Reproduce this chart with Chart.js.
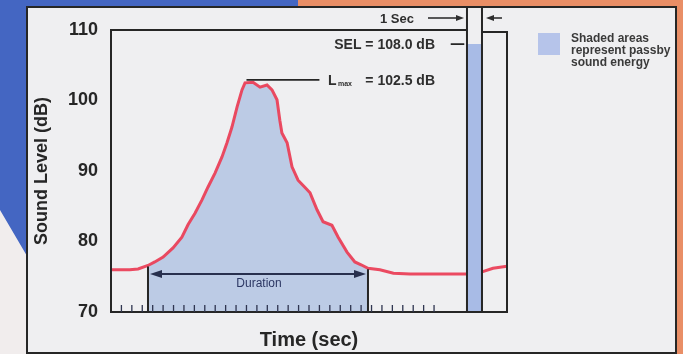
<!DOCTYPE html>
<html>
<head>
<meta charset="utf-8">
<script src="https://cdn.jsdelivr.net/npm/chart.js@4.4.0/dist/chart.umd.min.js"></script>
<style>
html,body{margin:0;padding:0;background:#f0eded;}
canvas{display:block;}
</style>
</head>
<body>
<canvas id="passby" width="683" height="354"></canvas>
<script>
// passby time history (time in seconds of the tick scale, level in dB)
var timeSec  = [0, 0.9, 1.8, 2.6, 3.55, 4.2, 5.0, 5.95, 6.8, 7.4, 8.06, 8.73, 9.3, 9.98, 10.65, 11.13, 11.6, 12.1, 12.57, 12.86, 13.63, 14.3, 14.97, 15.45, 15.93, 16.2, 16.4, 16.9, 17.37, 17.95, 18.6, 19.1, 19.77, 20.35, 21.2, 21.8, 22.65, 23.4, 24.0, 24.66, 25.8, 27.1, 28.7, 30.3, 31.9, 34.16];
var levelDb  = [76.0, 76.0, 76.0, 76.1, 76.6, 77.1, 77.8, 79.1, 80.6, 82.4, 84.0, 85.9, 87.7, 89.7, 92.0, 94.0, 96.2, 99.1, 101.5, 102.5, 102.6, 101.9, 102.2, 101.5, 100.1, 97.2, 95.4, 94.0, 90.6, 88.7, 87.7, 86.9, 84.5, 82.8, 82.3, 80.6, 78.5, 77.1, 76.7, 76.2, 76.0, 75.5, 75.4, 75.4, 75.4, 75.4];
// level after the 1 second SEL column
var tailTime  = [35.6, 36.66, 38];
var tailLevel = [75.7, 76.2, 76.5];

var durationStart = 3.55, durationEnd = 24.66;
var lmax = 102.5;
var sel = 108.0, selStart = 34.16, selEnd = 35.6;
var tickSec = [1,2,3,4,5,6,7,8,9,10,11,12,13,14,15,16,17,18,19,20,21,22,23,24,25,26,27,28,29,30,31];
var yMin = 70, yMax = 110, yStep = 10;

var curve = timeSec.map(function(t, i){ return {x: t, y: levelDb[i]}; });
var tail = tailTime.map(function(t, i){ return {x: t, y: tailLevel[i]}; });
var shade = curve.filter(function(p){ return p.x >= durationStart && p.x <= durationEnd; });
var selBar = [{x: selStart, y: sel}, {x: selEnd, y: sel}];

var FONT = "'Liberation Sans', Arial, sans-serif";
var INK = '#262626';

function arrowHead(c, x, y, dir, len, half){
    c.beginPath();
    c.moveTo(x, y);
    c.lineTo(x - dir*len, y - half);
    c.lineTo(x - dir*len, y + half);
    c.closePath();
    c.fill();
}

var decor = {
    id: 'decor',
    beforeDraw: function(chart){
        var c = chart.ctx;
        c.save();
        c.fillStyle = '#f1eded';
        c.fillRect(0, 0, 683, 354);
        c.fillStyle = '#e98e66';
        c.fillRect(290, 0, 393, 10);
        c.fillRect(674, 0, 9, 354);
        c.fillStyle = '#4466c2';
        c.beginPath();
        c.moveTo(0, 0); c.lineTo(298, 0); c.lineTo(298, 9); c.lineTo(27, 9);
        c.lineTo(27, 256); c.lineTo(0, 210); c.closePath();
        c.fill();
        c.fillStyle = '#efeff1';
        c.fillRect(27, 7, 649, 346);
        c.strokeStyle = INK;
        c.lineWidth = 2;
        c.strokeRect(27, 7, 649, 346);
        c.restore();
    },
    afterDatasetsDraw: function(chart){
        var c = chart.ctx, xs = chart.scales.x, ys = chart.scales.y;
        var X = function(v){ return xs.getPixelForValue(v); };
        var Y = function(v){ return ys.getPixelForValue(v); };
        var bottom = Y(yMin), top = Y(yMax);
        c.save();
        c.strokeStyle = INK;
        c.fillStyle = INK;
        c.lineWidth = 2;
        c.lineCap = 'butt';
        // plot box
        c.beginPath();
        c.moveTo(X(selStart), top); c.lineTo(X(0), top); c.lineTo(X(0), bottom); c.lineTo(X(38), bottom);
        c.lineTo(X(38), top + 2); c.lineTo(X(selEnd), top + 2);
        c.stroke();
        // 1 sec column
        c.beginPath();
        c.moveTo(X(selStart), 8); c.lineTo(X(selStart), bottom);
        c.moveTo(X(selEnd), 8); c.lineTo(X(selEnd), bottom);
        c.stroke();
        // duration limits
        c.beginPath();
        c.moveTo(X(durationStart), Y(levelDb[timeSec.indexOf(durationStart)]) + 1); c.lineTo(X(durationStart), bottom);
        c.moveTo(X(durationEnd), Y(levelDb[timeSec.indexOf(durationEnd)]) + 1); c.lineTo(X(durationEnd), bottom);
        c.stroke();
        // inner ticks
        c.lineWidth = 1.3;
        c.strokeStyle = '#2f3550';
        c.beginPath();
        tickSec.forEach(function(t){
            c.moveTo(X(t), bottom); c.lineTo(X(t), bottom - 7);
        });
        c.stroke();
        // duration arrow
        var ay = Y(75.4);
        c.strokeStyle = '#28304e'; c.fillStyle = '#28304e';
        c.lineWidth = 2;
        c.beginPath();
        c.moveTo(X(durationStart) + 8, ay); c.lineTo(X(durationEnd) - 8, ay);
        c.stroke();
        arrowHead(c, X(durationStart) + 2, ay, -1, 12, 4);
        arrowHead(c, X(durationEnd) - 2, ay, 1, 12, 4);
        c.font = '12px ' + FONT;
        c.textAlign = 'center'; c.textBaseline = 'middle';
        c.fillStyle = '#2c3763';
        c.fillText('Duration', (X(durationStart) + X(durationEnd)) / 2 + 1, ay + 10);
        // annotations
        c.strokeStyle = INK; c.fillStyle = '#2e2e2e';
        c.lineWidth = 1.6;
        c.beginPath();
        c.moveTo(X(13.0), Y(lmax) - 3); c.lineTo(X(20), Y(lmax) - 3);
        c.moveTo(X(32.6), Y(sel)); c.lineTo(X(33.9), Y(sel));
        c.stroke();
        c.textBaseline = 'alphabetic';
        c.font = 'bold 14px ' + FONT;
        c.textAlign = 'right';
        c.fillText('SEL = 108.0 dB', 435, Y(sel) + 5);
        c.fillText('= 102.5 dB', 435, Y(lmax) + 2);
        c.textAlign = 'left';
        c.fillText('L', 328, Y(lmax) + 2);
        c.font = 'bold 7px ' + FONT;
        c.fillText('max', 338, Y(lmax) + 3);
        // 1 sec marker
        c.font = 'bold 13px ' + FONT;
        c.textAlign = 'right';
        c.fillText('1 Sec', 414, 23);
        c.lineWidth = 1.5;
        c.beginPath();
        c.moveTo(428, 18); c.lineTo(458, 18);
        c.moveTo(X(selEnd) + 20, 18); c.lineTo(X(selEnd) + 10, 18);
        c.stroke();
        arrowHead(c, X(selStart) - 3, 18, 1, 8, 3);
        arrowHead(c, X(selEnd) + 4, 18, -1, 8, 3);
        // legend
        c.fillStyle = '#b6c4ea';
        c.fillRect(538, 33, 22, 22);
        c.fillStyle = '#3a3a3a';
        c.font = 'bold 12px ' + FONT;
        c.textAlign = 'left';
        c.beginPath(); c.rect(27, 7, 648, 346); c.clip();
        c.fillText('Shaded areas', 571, 42);
        c.fillText('represent passby', 571, 54);
        c.fillText('sound energy', 571, 66);
        c.restore();
    }
};

new Chart(document.getElementById('passby'), {
    type: 'line',
    data: {
        datasets: [
            {data: curve, borderColor: 'rgba(234,64,88,0.95)', borderWidth: 3, pointRadius: 0, fill: false, tension: 0},
            {data: tail, borderColor: 'rgba(234,64,88,0.95)', borderWidth: 3, pointRadius: 0, fill: false, tension: 0},
            {data: shade, borderWidth: 0, pointRadius: 0, fill: 'start', backgroundColor: '#bccbe5', tension: 0},
            {data: selBar, borderWidth: 0, pointRadius: 0, fill: 'start', backgroundColor: '#a8bbe6'}
        ]
    },
    options: {
        responsive: false,
        animation: false,
        events: [],
        layout: {padding: {left: 0, right: 176, top: 30, bottom: 0}},
        plugins: {legend: {display: false}, tooltip: {enabled: false}},
        scales: {
            x: {
                type: 'linear', min: 0, max: 38,
                ticks: {display: false},
                grid: {display: false, drawTicks: false},
                border: {display: false},
                title: {display: true, text: 'Time (sec)', color: INK, font: {family: FONT, size: 20, weight: 'bold'}, padding: {top: 0, bottom: 2}},
                afterFit: function(s){ s.height = 42; }
            },
            y: {
                min: yMin, max: yMax,
                ticks: {stepSize: yStep, padding: 13, color: INK, font: {family: FONT, size: 18, weight: 'bold'}},
                grid: {display: false, drawTicks: false},
                border: {display: false},
                title: {display: true, text: 'Sound Level (dB)', color: INK, font: {family: FONT, size: 18, weight: 'bold'}, padding: {top: 31, bottom: 0}},
                afterFit: function(s){ s.width = 111; }
            }
        }
    },
    plugins: [decor]
});
</script>
</body>
</html>
